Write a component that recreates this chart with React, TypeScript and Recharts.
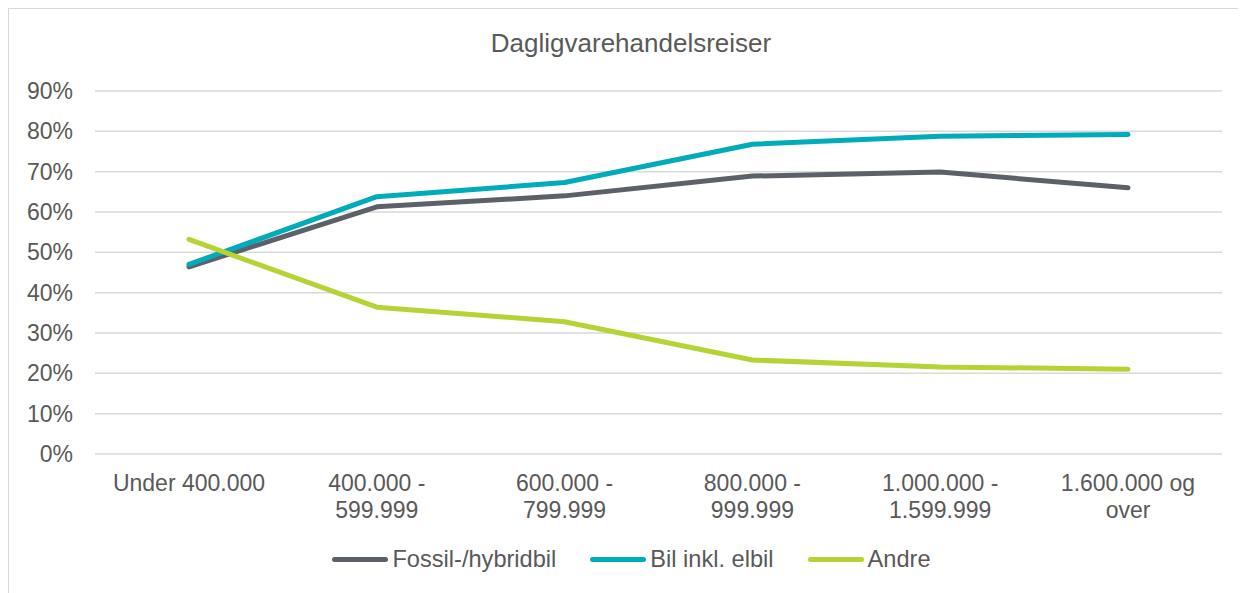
import { LineChart, Line, XAxis, YAxis, CartesianGrid, Legend } from "recharts";

const FONT = '"Liberation Sans", Arial, sans-serif';
const TEXT = "#595959";

const categories = [
  "Under 400.000",
  "400.000 -\n599.999",
  "600.000 -\n799.999",
  "800.000 -\n999.999",
  "1.000.000 -\n1.599.999",
  "1.600.000 og\nover",
];
const fossil = [46.4, 61.3, 64.0, 68.9, 69.9, 66.0];
const bil = [47.0, 63.8, 67.3, 76.8, 78.8, 79.2];
const andre = [53.2, 36.4, 32.8, 23.3, 21.6, 21.0];
const yTicks = [0, 10, 20, 30, 40, 50, 60, 70, 80, 90];

const series = [
  { key: "fossil", name: "Fossil-/hybridbil", color: "#5b6167" },
  { key: "bil", name: "Bil inkl. elbil", color: "#00acb9" },
  { key: "andre", name: "Andre", color: "#b5d334" },
];

const data = categories.map((c, i) => ({
  category: c,
  fossil: fossil[i],
  bil: bil[i],
  andre: andre[i],
}));

function CategoryTick({ x, y, payload }: any) {
  const lines = String(payload.value).split("\n");
  return (
    <text x={x} y={y} textAnchor="middle" fill={TEXT} fontSize={23} fontFamily={FONT}>
      {lines.map((l, i) => (
        <tspan key={i} x={x} dy={i === 0 ? 37 : 27}>
          {l}
        </tspan>
      ))}
    </text>
  );
}

function LegendContent() {
  return (
    <div
      style={{
        display: "flex",
        justifyContent: "center",
        paddingLeft: 42,
        fontFamily: FONT,
        fontSize: 23.6,
        color: TEXT,
      }}
    >
      {series.map((s) => (
        <div key={s.key} style={{ display: "flex", alignItems: "center", marginRight: 34 }}>
          <div
            style={{
              width: 56,
              height: 5,
              borderRadius: 3,
              background: s.color,
              marginRight: 4,
            }}
          />
          <span>{s.name}</span>
        </div>
      ))}
    </div>
  );
}

export default function App() {
  return (
    <div
      style={{
        position: "relative",
        width: 1238,
        height: 585,
        overflow: "hidden",
        borderTop: "1px solid #d9d9d9",
        borderLeft: "1px solid #d9d9d9",
        boxSizing: "border-box",
        background: "#fff",
      }}
    >
      <div
        style={{
          position: "absolute",
          top: 19,
          left: 622,
          transform: "translateX(-50%)",
          fontFamily: FONT,
          fontSize: 26,
          lineHeight: "30px",
          color: TEXT,
          whiteSpace: "nowrap",
        }}
      >
        Dagligvarehandelsreiser
      </div>
      <LineChart
        width={1237}
        height={584}
        data={data}
        margin={{ top: 82, right: 24, bottom: 0, left: 0 }}
      >
        <CartesianGrid vertical={false} stroke="#d9d9d9" strokeWidth={1.5} />
        <XAxis
          dataKey="category"
          interval={0}
          axisLine={false}
          tickLine={false}
          tickSize={0}
          tickMargin={0}
          padding={{ left: 94, right: 94 }}
          height={139}
          tick={<CategoryTick />}
        />
        <YAxis
          domain={[0, 90]}
          ticks={yTicks}
          width={86}
          axisLine={false}
          tickLine={false}
          tickSize={0}
          tickMargin={22}
          tickFormatter={(v) => `${v}%`}
          tick={{ fill: TEXT, fontSize: 23, fontFamily: FONT }}
        />
        <Legend
          verticalAlign="middle"
          content={<LegendContent />}
          wrapperStyle={{ top: 537, left: 0, width: 1237 }}
        />
        {series.map((s) => (
          <Line
            key={s.key}
            type="linear"
            dataKey={s.key}
            name={s.name}
            stroke={s.color}
            strokeWidth={5}
            strokeLinecap="round"
            strokeLinejoin="round"
            dot={false}
            activeDot={false}
            isAnimationActive={false}
          />
        ))}
      </LineChart>
    </div>
  );
}
